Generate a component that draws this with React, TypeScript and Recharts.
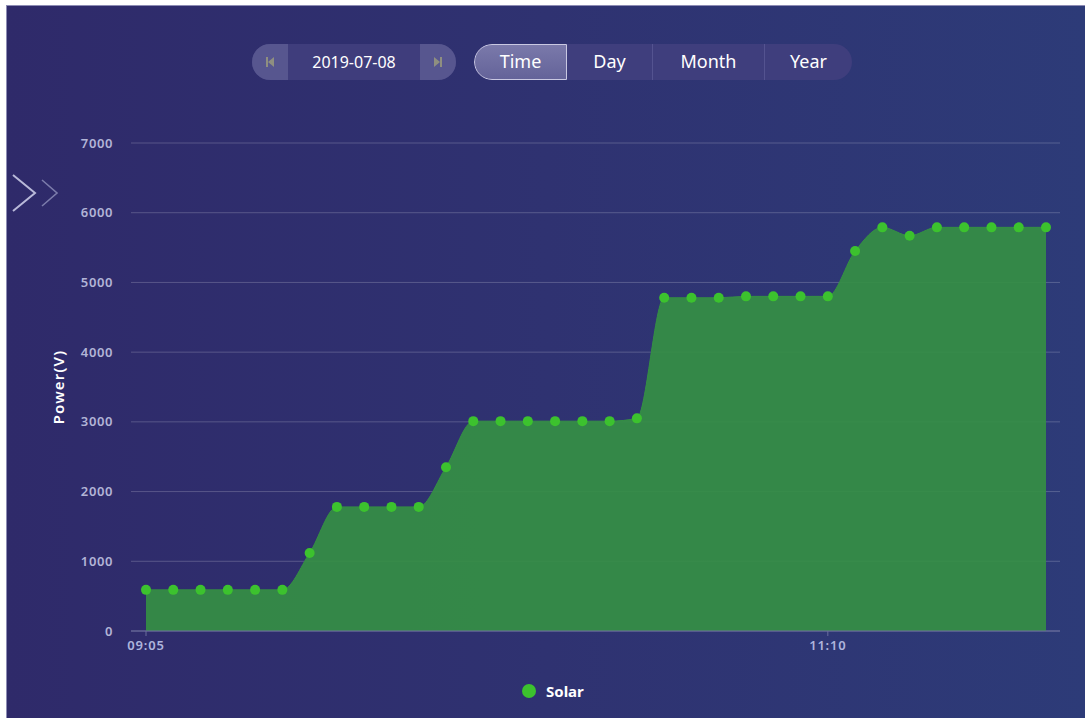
import React from 'react';
import { AreaChart, Area, XAxis, YAxis, CartesianGrid } from 'recharts';

const times = [
  '09:05', '09:10', '09:15', '09:20', '09:25', '09:30', '09:35', '09:40', '09:45', '09:50',
  '09:55', '10:00', '10:05', '10:10', '10:15', '10:20', '10:25', '10:30', '10:35', '10:40',
  '10:45', '10:50', '10:55', '11:00', '11:05', '11:10', '11:15', '11:20', '11:25', '11:30',
  '11:35', '11:40', '11:45', '11:50',
];
const solar = [
  590, 590, 590, 590, 590, 590, 1120, 1780, 1780, 1780,
  1780, 2350, 3010, 3010, 3010, 3010, 3010, 3010, 3050, 4780,
  4780, 4780, 4800, 4800, 4800, 4800, 5450, 5790, 5670, 5790,
  5790, 5790, 5790, 5790,
];
const xTicks = ['09:05', '11:10'];
const yTicks = [0, 1000, 2000, 3000, 4000, 5000, 6000, 7000];
const dateLabel = '2019-07-08';
const tabs = ['Time', 'Day', 'Month', 'Year'];
const seriesName = 'Solar';

const data = times.map((t, i) => ({ time: t, solar: solar[i] }));

const FONT = '"Noto Sans", "Open Sans", sans-serif';

const tabWidths = [93, 85, 112, 88];

export default function App() {
  return (
    <div style={{ position: 'fixed', left: 0, top: 0, width: 1085, height: 718, background: '#ffffff', overflow: 'hidden', fontFamily: FONT }}>
      <div style={{ position: 'absolute', left: 6, top: 5, width: 1079, height: 713, background: 'linear-gradient(90deg, #2f2a6a 0%, #2f3271 50%, #2d3b78 100%)', borderLeft: '1px solid #8d8cb4', borderTop: '1px solid #8d8cb4' }} />

      {/* chevrons */}
      <svg style={{ position: 'absolute', left: 0, top: 160 }} width={70} height={60}>
        <polyline points="13,15 35,33 13,51" fill="none" stroke="#b9b9d9" strokeWidth={2} />
        <polyline points="42,20 57,33 42,46" fill="none" stroke="#7c7cab" strokeWidth={1.6} />
      </svg>

      {/* date pill */}
      <div style={{ position: 'absolute', left: 252, top: 44, width: 204, height: 36, borderRadius: 18, overflow: 'hidden', display: 'flex', background: '#3f3d7c' }}>
        <div style={{ width: 36, height: 36, background: '#57568f', display: 'flex', alignItems: 'center', justifyContent: 'center' }}>
          <svg width={12} height={14}>
            <rect x={2} y={2} width={2} height={10} fill="#8f8f80" />
            <polygon points="10,2 4,7 10,12" fill="#8f8f80" />
          </svg>
        </div>
        <div style={{ flex: 1, display: 'flex', alignItems: 'center', justifyContent: 'center', color: '#ffffff', fontSize: 16, paddingBottom: 1 }}>{dateLabel}</div>
        <div style={{ width: 36, height: 36, background: '#57568f', display: 'flex', alignItems: 'center', justifyContent: 'center' }}>
          <svg width={12} height={14}>
            <polygon points="2,2 8,7 2,12" fill="#8f8f80" />
            <rect x={8} y={2} width={2} height={10} fill="#8f8f80" />
          </svg>
        </div>
      </div>

      {/* tab pill */}
      <div style={{ position: 'absolute', left: 474, top: 44, width: 378, height: 36, borderRadius: 18, overflow: 'hidden', display: 'flex', background: '#3f3e7d' }}>
        {tabs.map((t, i) => (
          <div key={t} style={{
            width: tabWidths[i], height: 36, boxSizing: 'border-box',
            display: 'flex', alignItems: 'center', justifyContent: 'center',
            color: '#ffffff', fontSize: 18, paddingBottom: 2,
            background: i === 0 ? 'linear-gradient(180deg, #7a79aa 0%, #646399 100%)' : 'transparent',
            border: i === 0 ? '1.5px solid #c9c8e2' : 'none',
            borderRadius: i === 0 ? '18px 0 0 18px' : 0,
            borderLeft: i > 1 ? '1px solid #545390' : (i === 0 ? '1.5px solid #c9c8e2' : 'none'),
          }}>{t}</div>
        ))}
      </div>

      <div style={{ position: 'absolute', left: 0, top: 0 }}>
        <AreaChart width={1085} height={718} data={data} margin={{ top: 143, right: 25, bottom: 57, left: 0 }}>
          <CartesianGrid vertical={false} stroke="rgba(255,255,255,0.2)" strokeWidth={1} />
          <XAxis
            dataKey="time"
            ticks={xTicks}
            interval={0}
            height={30}
            padding={{ left: 15, right: 14 }}
            axisLine={{ stroke: '#6a6c9c' }}
            tickLine={{ stroke: '#6a6c9c' }}
            tickSize={5}
            tickMargin={5}
            tick={{ fill: '#aeb4dc', fontSize: 13, fontFamily: FONT, fontWeight: 600, letterSpacing: 0.8 }}
          />
          <YAxis
            width={131}
            domain={[0, 7000]}
            ticks={yTicks}
            interval={0}
            axisLine={false}
            tickLine={false}
            tickSize={0}
            tickMargin={18}
            tick={{ fill: '#b2b4d6', fontSize: 13, fontFamily: FONT, fontWeight: 600, letterSpacing: 0.6 }}
            label={{ value: 'Power(V)', angle: -90, position: 'center', dx: -7, fill: '#ffffff', fontSize: 15, fontFamily: FONT, fontWeight: 600, letterSpacing: 1.2 }}
          />
          <Area
            type="monotone"
            dataKey="solar"
            name={seriesName}
            stroke="#358f44"
            strokeWidth={1}
            fill="#358f44"
            fillOpacity={0.92}
            dot={{ r: 5, fill: '#3cc22e', stroke: 'none', fillOpacity: 1 }}
            activeDot={false}
            isAnimationActive={false}
          />
        </AreaChart>
      </div>

      {/* legend */}
      <div style={{ position: 'absolute', left: 522, top: 681, display: 'flex', alignItems: 'center', height: 20 }}>
        <div style={{ width: 14, height: 14, borderRadius: 7, background: '#3cc22e' }} />
        <div style={{ marginLeft: 10, color: '#ffffff', fontSize: 15, fontWeight: 700 }}>{seriesName}</div>
      </div>
    </div>
  );
}
